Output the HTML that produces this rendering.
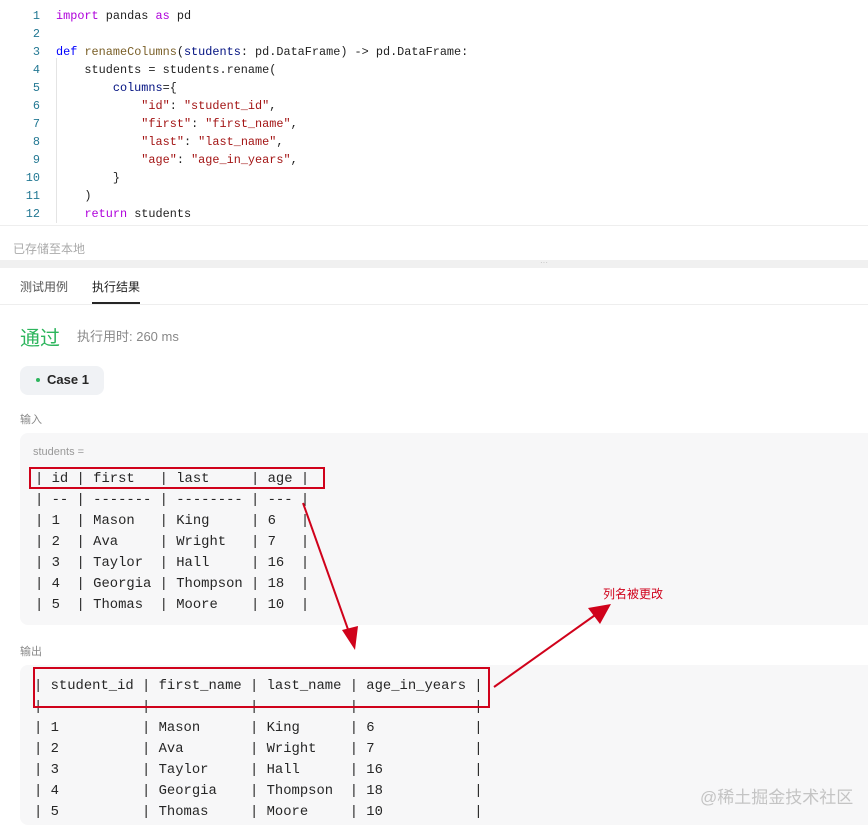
<!DOCTYPE html>
<html><head><meta charset="utf-8"><style>
*{margin:0;padding:0;box-sizing:border-box}
body{width:868px;height:808px;overflow:hidden;background:#fff;font-family:"Liberation Sans","Noto Sans CJK SC",sans-serif;position:relative}
.a{position:absolute;white-space:pre}
.code{font-family:"Liberation Mono","Noto Sans CJK SC",monospace;font-size:11.85px;line-height:18px;color:#222}
.ln{color:#237893;text-align:right;width:40px;left:0}
.k{color:#af00db}.b{color:#0000ff}.f{color:#795e26}.p{color:#001080}.s{color:#a31515}
.tbl{font-family:"Liberation Mono","Noto Sans CJK SC",monospace;font-size:13.85px;line-height:21px;color:#262626}
.cn{font-family:"Liberation Sans","Noto Sans CJK SC",sans-serif}
</style></head><body>
<div class="a code ln" style="top:7px">1
2
3
4
5
6
7
8
9
10
11
12</div>
<div class="a code" style="left:56px;top:7px"><span class="k">import</span> pandas <span class="k">as</span> pd

<span class="b">def</span> <span class="f">renameColumns</span>(<span class="p">students</span>: pd.DataFrame) -&gt; pd.DataFrame:
    students = students.rename(
        <span class="p">columns</span>={
            <span class="s">"id"</span>: <span class="s">"student_id"</span>,
            <span class="s">"first"</span>: <span class="s">"first_name"</span>,
            <span class="s">"last"</span>: <span class="s">"last_name"</span>,
            <span class="s">"age"</span>: <span class="s">"age_in_years"</span>,
        }
    )
    <span class="k">return</span> students</div>
<div class="a" style="left:56px;top:58px;width:1px;height:165px;background:#e4e4e4"></div>
<div class="a" style="left:0;top:225px;width:868px;height:1px;background:#eee"></div>
<div class="a cn" style="left:13px;top:240px;font-size:12px;color:#aaa">已存储至本地</div>
<div class="a" style="left:0;top:260px;width:868px;height:8px;background:#f0f0f0"></div>
<div class="a" style="left:540px;top:258px;font-size:8px;color:#bbb">···</div>
<div class="a cn" style="left:20px;top:278px;font-size:12px;color:#555">测试用例</div>
<div class="a cn" style="left:92px;top:278px;font-size:12px;color:#222">执行结果</div>
<div class="a" style="left:92px;top:302px;width:48px;height:2px;background:#262626"></div>
<div class="a" style="left:0;top:304px;width:868px;height:1px;background:#eee"></div>
<div class="a cn" style="left:20px;top:322px;font-size:20px;color:#2db55d">通过</div>
<div class="a cn" style="left:77px;top:326px;font-size:13px;color:#888">执行用时: 260 ms</div>
<div class="a" style="left:20px;top:366px;width:84px;height:29px;background:#f0f2f5;border-radius:8px"></div>
<div class="a" style="left:36px;top:378px;width:4px;height:4px;border-radius:2px;background:#2db55d"></div>
<div class="a cn" style="left:47px;top:372px;font-size:13px;font-weight:bold;color:#262626">Case 1</div>
<div class="a cn" style="left:20px;top:411px;font-size:11px;color:#888">输入</div>
<div class="a" style="left:20px;top:433px;width:860px;height:192px;background:#f7f7f8;border-radius:8px"></div>
<div class="a cn" style="left:33px;top:446px;font-size:11px;color:#999">students =</div>
<div class="a tbl" style="left:35px;top:469px">| id | first   | last     | age |
| -- | ------- | -------- | --- |
| 1  | Mason   | King     | 6   |
| 2  | Ava     | Wright   | 7   |
| 3  | Taylor  | Hall     | 16  |
| 4  | Georgia | Thompson | 18  |
| 5  | Thomas  | Moore    | 10  |</div>
<div class="a" style="left:29px;top:467px;width:296px;height:22px;border:2px solid #d0021b"></div>
<div class="a cn" style="left:20px;top:643px;font-size:11px;color:#888">输出</div>
<div class="a" style="left:20px;top:665px;width:860px;height:160px;background:#f7f7f8;border-radius:8px"></div>
<div class="a tbl" style="left:34px;top:676px">| student_id | first_name | last_name | age_in_years |
|            |            |           |              |
| 1          | Mason      | King      | 6            |
| 2          | Ava        | Wright    | 7            |
| 3          | Taylor     | Hall      | 16           |
| 4          | Georgia    | Thompson  | 18           |
| 5          | Thomas     | Moore     | 10           |</div>
<div class="a" style="left:33px;top:667px;width:457px;height:41px;border:2px solid #d0021b"></div>
<div class="a cn" style="left:603px;top:585px;font-size:12px;color:#d0021b">列名被更改</div>
<div class="a cn" style="left:700px;top:783px;font-size:17px;color:#c4c4c4">@稀土掘金技术社区</div>
<svg class="a" style="left:0;top:0" width="868" height="808">
<line x1="303" y1="503" x2="350" y2="635" stroke="#d0021b" stroke-width="2"/>
<polygon points="355,650 342,630 358,626" fill="#d0021b"/>
<line x1="494" y1="687" x2="598" y2="613" stroke="#d0021b" stroke-width="2"/>
<polygon points="611,604 600,624 588,608" fill="#d0021b"/>
</svg>
</body></html>
